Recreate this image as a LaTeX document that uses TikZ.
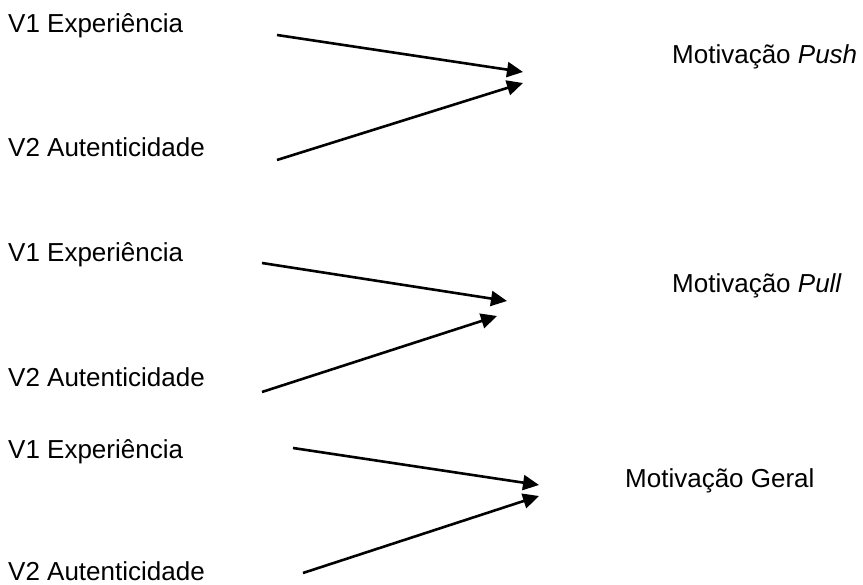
\documentclass[tikz,border=0pt]{standalone}
\usepackage{fontspec}
\setmainfont{Liberation Sans}
\usetikzlibrary{arrows.meta}
\begin{document}
\begin{tikzpicture}[x=1pt,y=-1pt,
  lbl/.style={anchor=base west,inner sep=0pt,font=\fontsize{26}{30}\selectfont},
  arr/.style={line width=2.6pt,-{Triangle[length=16pt,width=15pt]}}]
\useasboundingbox (0,0) rectangle (863,585);
% group 1
\node[lbl] (e1) at (8,33) {V1 Experiência};
\node[lbl] (a1) at (8,157) {V2 Autenticidade};
\node[lbl] (m1) at (672,64) {Motivação \textit{Push}};
\coordinate (s1) at (277,35);
\coordinate (t1) at (523,72);
\coordinate (s2) at (277,160);
\coordinate (t2) at (523,83);
\draw[arr] (s1) -- (t1);
\draw[arr] (s2) -- (t2);
% group 2
\node[lbl] (e2) at (8,262) {V1 Experiência};
\node[lbl] (a2) at (8,387) {V2 Autenticidade};
\node[lbl] (m2) at (672,293) {Motivação \textit{Pull}};
\coordinate (s3) at (262,263);
\coordinate (t3) at (507,301);
\coordinate (s4) at (262,392);
\coordinate (t4) at (497,316);
\draw[arr] (s3) -- (t3);
\draw[arr] (s4) -- (t4);
% group 3
\node[lbl] (e3) at (8,459) {V1 Experiência};
\node[lbl] (a3) at (8,580) {V2 Autenticidade};
\node[lbl] (m3) at (625,488) {Motivação Geral};
\coordinate (s5) at (293,448);
\coordinate (t5) at (539,485);
\coordinate (s6) at (303,573);
\coordinate (t6) at (539,496);
\draw[arr] (s5) -- (t5);
\draw[arr] (s6) -- (t6);
\end{tikzpicture}
\end{document}
